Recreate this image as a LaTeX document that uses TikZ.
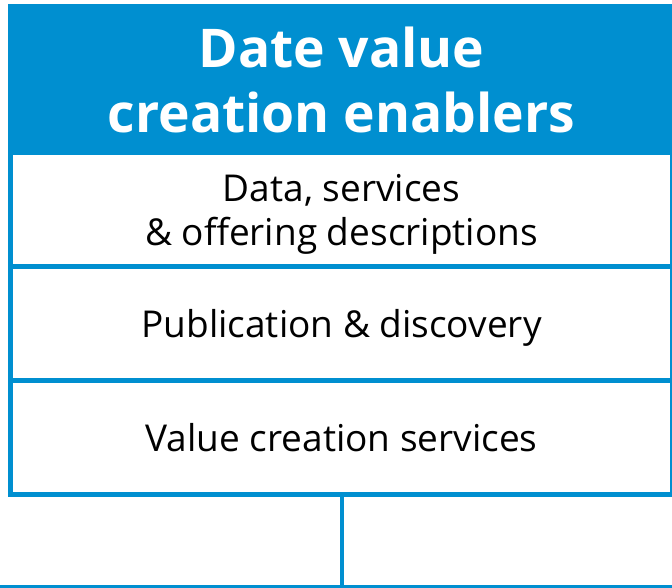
\documentclass[tikz,border=0pt]{standalone}
\usepackage{fontspec}
\setmainfont{Open Sans}
\usetikzlibrary{positioning}
\definecolor{enabler}{RGB}{0,143,208}

\begin{document}
\begin{tikzpicture}[x=1pt,y=-1pt,
  layer/.style={draw=enabler, line width=5pt, fill=white, minimum width=662pt,
    minimum height=114pt, inner sep=0pt, outer sep=0pt, align=center,
    text depth=-5pt, font=\fontsize{37}{44}\selectfont},
  title/.style={layer, fill=enabler, text=white, minimum height=146pt,
    text depth=-13pt, font=\fontsize{53.4}{65}\selectfont\bfseries}]

  \useasboundingbox (0,0) rectangle (672,588);
  \clip (0,0) rectangle (672,588);

  % Header
  \node[title] (header) at (341.5,79.5) {Date value\\creation enablers};

  % Layers
  \node[layer, below=0pt of header] (descr) {Data, services\\\& offering descriptions};
  \node[layer, below=0pt of descr] (publish) {Publication \& discovery};
  \node[layer, below=0pt of publish] (valuecr) {Value creation services};

  % Base
  \coordinate (baseL) at (-5,586.5);
  \coordinate (baseR) at (677,586.5);
  \draw[enabler, line width=4pt] (baseL) -- (baseR);
  \draw[enabler, line width=4pt] (valuecr.south) -- (valuecr.south |- baseL);

\end{tikzpicture}
\end{document}
